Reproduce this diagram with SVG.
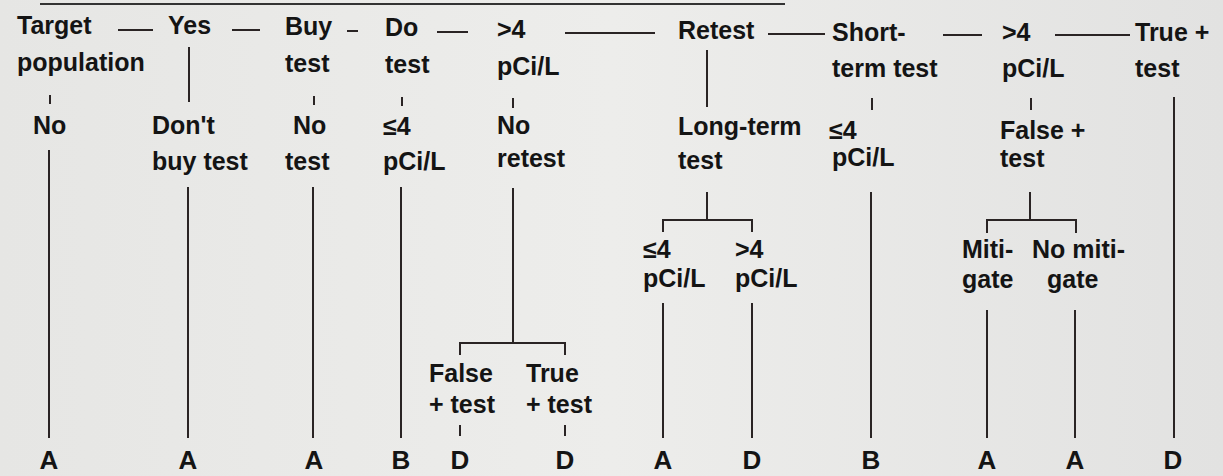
<svg xmlns="http://www.w3.org/2000/svg" width="1223" height="476" viewBox="0 0 1223 476">
<defs>
<linearGradient id="bg" x1="0" y1="0" x2="1" y2="0">
<stop offset="0" stop-color="#e6e6e4"/>
<stop offset="0.5" stop-color="#ededeb"/>
<stop offset="1" stop-color="#e2e2e1"/>
</linearGradient>
<style>
text{font-family:"Liberation Sans",Arial,sans-serif;font-weight:bold;font-size:25px;fill:#141414}
.leaf{text-anchor:middle;font-size:26px}
.c{stroke:#2a2424;stroke-width:2;fill:none}
.d{stroke:#2a2424;stroke-width:2;fill:none}
</style>
</defs>
<rect width="1223" height="476" fill="url(#bg)"/>
<line x1="40" y1="4" x2="785" y2="4" stroke="#333" stroke-width="2"/>

<g id="connectors">
<line class="d" x1="118" y1="30" x2="153" y2="30"/>
<line class="d" x1="232" y1="30" x2="260" y2="30"/>
<line class="d" x1="347" y1="31" x2="358" y2="31"/>
<line class="d" x1="437" y1="32" x2="468" y2="32"/>
<line class="d" x1="565" y1="33" x2="655" y2="33"/>
<line class="d" x1="768" y1="34" x2="825" y2="34"/>
<line class="d" x1="943" y1="35" x2="982" y2="35"/>
<line class="d" x1="1055" y1="35" x2="1130" y2="35"/>
<line class="c" x1="50" y1="95" x2="50" y2="104"/>
<line class="c" x1="189" y1="47" x2="189" y2="102"/>
<line class="c" x1="314" y1="96" x2="314" y2="105"/>
<line class="c" x1="402" y1="97" x2="402" y2="106"/>
<line class="c" x1="513" y1="98" x2="513" y2="108"/>
<line class="c" x1="707" y1="50" x2="707" y2="107"/>
<line class="c" x1="872" y1="98" x2="872" y2="110"/>
<line class="c" x1="1031" y1="98" x2="1031" y2="110"/>
<line class="c" x1="49" y1="150" x2="49" y2="438"/>
<line class="c" x1="188" y1="187" x2="188" y2="438"/>
<line class="c" x1="313" y1="187" x2="313" y2="438"/>
<line class="c" x1="401" y1="187" x2="401" y2="438"/>
<line class="c" x1="871" y1="192" x2="871" y2="438"/>
<line class="c" x1="1174" y1="97" x2="1174" y2="438"/>
<path class="c" d="M513 188 V343 M460 355 V343 H565 V355"/>
<line class="c" x1="460" y1="425" x2="460" y2="436"/>
<line class="c" x1="565" y1="425" x2="565" y2="436"/>
<path class="c" d="M707 192 V220 M663 232 V220 H752 V232"/>
<line class="c" x1="663" y1="303" x2="663" y2="438"/>
<line class="c" x1="752" y1="303" x2="752" y2="438"/>
<path class="c" d="M1030 192 V220 M987 233 V220 H1076 V233"/>
<line class="c" x1="987" y1="310" x2="987" y2="438"/>
<line class="c" x1="1075" y1="310" x2="1075" y2="438"/>
</g>

<g id="target"><text x="17" y="34">Target</text><text x="17" y="71">population</text></g>
<g id="yes"><text x="168" y="34">Yes</text></g>
<g id="buy"><text x="285" y="35">Buy</text><text x="285" y="72">test</text></g>
<g id="dotest"><text x="385" y="36">Do</text><text x="385" y="73">test</text></g>
<g id="gt4a"><text x="497" y="38">&gt;4</text><text x="497" y="75">pCi/L</text></g>
<g id="retest"><text x="678" y="39">Retest</text></g>
<g id="shortterm"><text x="832" y="41">Short-</text><text x="832" y="77">term test</text></g>
<g id="gt4b"><text x="1002" y="41">&gt;4</text><text x="1002" y="77">pCi/L</text></g>
<g id="truepos"><text x="1135" y="41">True +</text><text x="1135" y="77">test</text></g>

<g id="no"><text x="33" y="134">No</text></g>
<g id="dontbuy"><text x="152" y="134">Don't</text><text x="152" y="170">buy test</text></g>
<g id="notest"><text x="293" y="134">No</text><text x="285" y="170">test</text></g>
<g id="le4a"><text x="383" y="135">≤4</text><text x="383" y="170">pCi/L</text></g>
<g id="noretest"><text x="497" y="134">No</text><text x="497" y="167">retest</text></g>
<g id="longterm"><text x="678" y="135">Long-term</text><text x="678" y="169">test</text></g>
<g id="le4b"><text x="829" y="139">≤4</text><text x="832" y="166">pCi/L</text></g>
<g id="falsepos"><text x="1000" y="139">False +</text><text x="1000" y="167">test</text></g>

<g id="le4c"><text x="643" y="258">≤4</text><text x="643" y="287">pCi/L</text></g>
<g id="gt4c"><text x="735" y="258">&gt;4</text><text x="735" y="287">pCi/L</text></g>
<g id="mitigate"><text x="962" y="258">Miti-</text><text x="962" y="288">gate</text></g>
<g id="nomitigate"><text x="1032" y="258">No miti-</text><text x="1047" y="288">gate</text></g>
<g id="falsepos2"><text x="429" y="382">False</text><text x="429" y="413">+ test</text></g>
<g id="truepos2"><text x="526" y="382">True</text><text x="526" y="413">+ test</text></g>

<g id="outcomes">
<text class="leaf" x="49" y="469">A</text>
<text class="leaf" x="188" y="469">A</text>
<text class="leaf" x="314" y="469">A</text>
<text class="leaf" x="401" y="469">B</text>
<text class="leaf" x="460" y="469">D</text>
<text class="leaf" x="565" y="469">D</text>
<text class="leaf" x="663" y="469">A</text>
<text class="leaf" x="752" y="469">D</text>
<text class="leaf" x="871" y="469">B</text>
<text class="leaf" x="987" y="469">A</text>
<text class="leaf" x="1075" y="469">A</text>
<text class="leaf" x="1173" y="469">D</text>
</g>
</svg>
